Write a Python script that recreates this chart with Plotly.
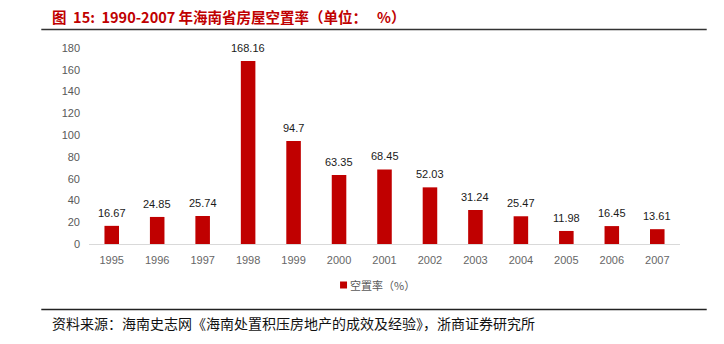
import plotly.graph_objects as go

years = ["1995", "1996", "1997", "1998", "1999", "2000", "2001",
         "2002", "2003", "2004", "2005", "2006", "2007"]
vacancy = [16.67, 24.85, 25.74, 168.16, 94.7, 63.35, 68.45,
           52.03, 31.24, 25.47, 11.98, 16.45, 13.61]
series_name = "空置率（%）"
title_text = "图\u00a0\u00a015:\u00a0\u00a01990-2007\u00a0年海南省房屋空置率（单位：\u00a0\u00a0\u00a0%）"
source_text = "资料来源：海南史志网《海南处置积压房地产的成效及经验》，浙商证券研究所"

FONT = "Liberation Sans, Arial, Noto Sans CJK SC, sans-serif"
CJK = "Noto Sans CJK SC, sans-serif"
RED = "#C00000"

fig = go.Figure()
fig.add_trace(go.Bar(
    x=years, y=vacancy, name=series_name,
    marker=dict(color=RED, line=dict(width=0)),
    width=0.32,
    showlegend=False,
    hovertemplate="%{x}: %{y}<extra></extra>",
))

# value labels above bars (x given as category index)
for i, v in enumerate(vacancy):
    fig.add_annotation(x=i, y=v, xref="x", yref="y", text=f"{v:g}",
                       showarrow=False, yanchor="bottom", yshift=5,
                       font=dict(color="#1a1a1a", size=11, family=FONT))

L, R, T, B = 88.75, 43.75, 48, 100
W, H = 724, 344
pw = W - L - R
ph = H - T - B

def px_to_paper_x(px):
    return (px - L) / pw

def px_to_paper_y(py):
    return (H - B - py) / ph

fig.update_layout(
    width=W, height=H,
    margin=dict(l=L, r=R, t=T, b=B, pad=0),
    paper_bgcolor="white", plot_bgcolor="white",
    font=dict(family=FONT, size=11, color="#595959"),
    xaxis=dict(type="category", range=[-0.5, len(years) - 0.5],
               showgrid=False, showline=True,
               linecolor="#d9d9d9", linewidth=1,
               ticks="", ticklabelstandoff=6,
               tickfont=dict(size=11, color="#666666"), fixedrange=True),
    yaxis=dict(range=[0, 180], dtick=20, showgrid=False, zeroline=False,
               showline=False, ticks="", ticklabelstandoff=8,
               tickfont=dict(size=11, color="#595959")),
    showlegend=False,
)

# manual legend (small square + label), like the reference
fig.add_shape(type="rect", xref="paper", yref="paper",
              x0=px_to_paper_x(340), x1=px_to_paper_x(347),
              y0=px_to_paper_y(288.5), y1=px_to_paper_y(281.5),
              fillcolor=RED, line=dict(width=0))
fig.add_annotation(text=series_name, xref="paper", yref="paper",
                   x=px_to_paper_x(348), y=px_to_paper_y(285),
                   xanchor="left", yanchor="middle", showarrow=False,
                   font=dict(family=CJK, size=11, color="#595959"))

# header / footer rules
fig.add_shape(type="line", xref="paper", yref="paper",
              x0=px_to_paper_x(41), x1=px_to_paper_x(707),
              y0=px_to_paper_y(29.5), y1=px_to_paper_y(29.5),
              line=dict(color="#333333", width=1.5))
fig.add_shape(type="line", xref="paper", yref="paper",
              x0=px_to_paper_x(41), x1=px_to_paper_x(707),
              y0=px_to_paper_y(309.5), y1=px_to_paper_y(309.5),
              line=dict(color="#222222", width=1.5))

fig.add_annotation(text=f"<b>{title_text}</b>", xref="paper", yref="paper",
                   x=px_to_paper_x(50), y=px_to_paper_y(16),
                   xanchor="left", yanchor="middle", showarrow=False,
                   font=dict(family=CJK, size=14.5, color=RED))
fig.add_annotation(text=source_text, xref="paper", yref="paper",
                   x=px_to_paper_x(50), y=px_to_paper_y(323),
                   xanchor="left", yanchor="middle", showarrow=False,
                   font=dict(family=CJK, size=14, color="#111111"))

fig.write_html("out.html")
